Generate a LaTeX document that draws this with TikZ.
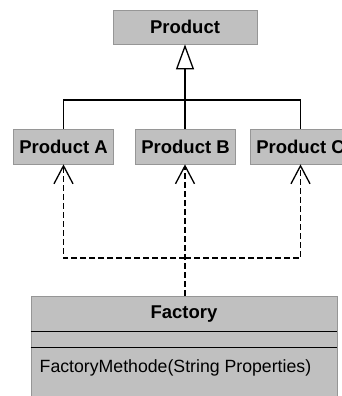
\documentclass[tikz,border=0pt]{standalone}
\usepackage{fontspec}
\setmainfont{Liberation Sans}
\usetikzlibrary{arrows.meta}
\definecolor{boxfill}{RGB}{192,192,192}
\definecolor{boxedge}{RGB}{150,150,150}
\begin{document}
\begin{tikzpicture}[x=1pt,y=-1pt,
  classbox/.style={rectangle, fill=boxfill, draw=boxedge, line width=0.8pt,
    inner sep=0pt, font=\fontsize{18.5}{20}\selectfont\bfseries},
  inherit/.style={line width=1.3pt, black},
  dep/.style={line width=1.3pt, black, dash pattern=on 6pt off 3pt},
  sep/.style={line width=1.3pt, black}]
\useasboundingbox (0,0) rectangle (342,396);
\clip (0,0) rectangle (342,396);

% classes
\node[classbox, minimum width=144pt, minimum height=34pt] (prod) at (185,27) {Product};
\node[classbox, minimum width=100pt, minimum height=35pt] (pa) at (63.5,146.5) {Product A};
\node[classbox, minimum width=100pt, minimum height=35pt] (pb) at (185.5,146.5) {Product B};
\node[classbox, minimum width=100pt, minimum height=35pt] (pc) at (300.5,146.5) {Product C};

% factory class with its compartments
\node[classbox, minimum width=306pt, minimum height=100pt] (f) at (184,346) {};
\node[font=\fontsize{18.5}{20}\selectfont\bfseries, inner sep=0pt] (ft) at (184,314) {Factory};
\draw[sep] (f.west |- 0,331.7) coordinate (s1) -- (f.east |- s1);
\draw[sep] (f.west |- 0,347.3) coordinate (s2) -- (f.east |- s2);
\node[anchor=base west, inner sep=0pt, font=\fontsize{17.7}{20}\selectfont] (fm) at (39.5,372) {FactoryMethode(String Properties)};

% generalisation
\coordinate (j) at (185,100);
\draw[inherit, -{Triangle[open, length=25pt, width=18pt, line width=1.3pt]}] (pb.north -| j) -- (prod.south -| j);
\draw[inherit] (pa.north) |- (j) -| (pc.north);

% dependencies from the factory
\coordinate (d) at (185,258);
\tikzset{barb/.style={-{Straight Barb[length=18pt, width=19pt, line width=1.3pt]}}}
\draw[dep, barb] (f.north -| d) -- (pb.south -| d);
\draw[dep, barb] (d) -| (pa.south);
\draw[dep, barb] (d) -| (pc.south);
\end{tikzpicture}
\end{document}
